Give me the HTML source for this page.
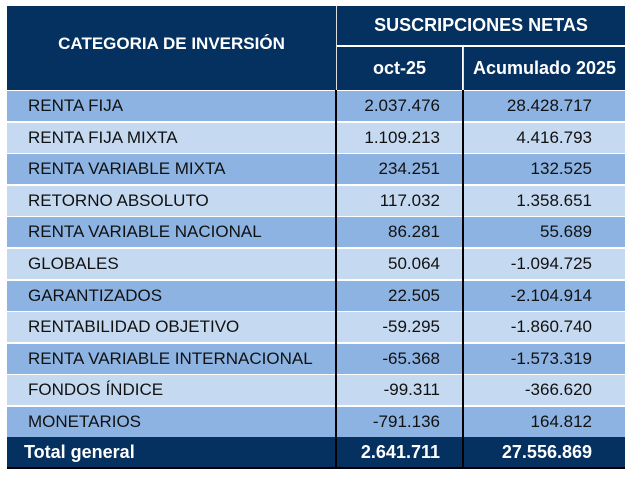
<!DOCTYPE html><html><head><meta charset="utf-8"><style>
body{margin:0;width:633px;height:478px;background:#fff;font-family:"Liberation Sans",sans-serif;position:relative;overflow:hidden}
div{position:absolute;box-sizing:border-box}
.h{background:#04315f;color:#fff;font-weight:bold;font-size:17px;display:flex;align-items:center;justify-content:center;white-space:nowrap}
.r{left:7px;width:618px;height:30px}
.t{font-size:17px;color:#111;line-height:30px;white-space:nowrap}
.a{left:28px}.b{right:193px;text-align:right}.c{right:41px;text-align:right}
.tot{color:#fff;font-weight:bold;font-size:18px}
</style></head><body>
<div class="h" style="left:7px;top:6px;width:329px;height:84px;padding-bottom:8px">CATEGORIA DE INVERSIÓN</div>
<div class="h" style="left:337px;top:6px;width:288px;height:39px;font-size:18px">SUSCRIPCIONES NETAS</div>
<div class="h" style="left:337px;top:47px;width:125px;height:43px;font-size:18px">oct-25</div>
<div class="h" style="left:464px;top:47px;width:161px;height:43px;font-size:18px">Acumulado 2025</div>
<div style="left:336px;top:6px;width:1px;height:84px;background:#ddd"></div>
<div style="left:463px;top:47px;width:1px;height:43px;background:#ddd"></div>
<div style="left:7px;top:436px;width:618px;height:31px;background:#04315f"></div>
<div style="left:7px;top:467px;width:618px;height:2px;background:#000"></div>
<script>
var d=[["RENTA FIJA","2.037.476","28.428.717"],["RENTA FIJA MIXTA","1.109.213","4.416.793"],["RENTA VARIABLE MIXTA","234.251","132.525"],["RETORNO ABSOLUTO","117.032","1.358.651"],["RENTA VARIABLE NACIONAL","86.281","55.689"],["GLOBALES","50.064","-1.094.725"],["GARANTIZADOS","22.505","-2.104.914"],["RENTABILIDAD OBJETIVO","-59.295","-1.860.740"],["RENTA VARIABLE INTERNACIONAL","-65.368","-1.573.319"],["FONDOS ÍNDICE","-99.311","-366.620"],["MONETARIOS","-791.136","164.812"]];
var h="";
d.forEach(function(r,i){var y=Math.round(91+i*31.6);
h+='<div class="r" style="top:'+y+'px;background:'+(i%2?'#c5d9f1':'#8db3e2')+'"></div>';
h+='<div class="t a" style="top:'+y+'px">'+r[0]+'</div><div class="t b" style="top:'+y+'px">'+r[1]+'</div><div class="t c" style="top:'+y+'px">'+r[2]+'</div>';});
h+='<div class="t a tot" style="top:437px;left:24px">Total general</div><div class="t b tot" style="top:437px">2.641.711</div><div class="t c tot" style="top:437px">27.556.869</div>';
h+='<div style="left:335px;top:90px;width:1.5px;height:378px;background:#000"></div><div style="left:462px;top:90px;width:1.5px;height:378px;background:#000"></div>';
document.body.insertAdjacentHTML("beforeend",h);
</script>
</body></html>
